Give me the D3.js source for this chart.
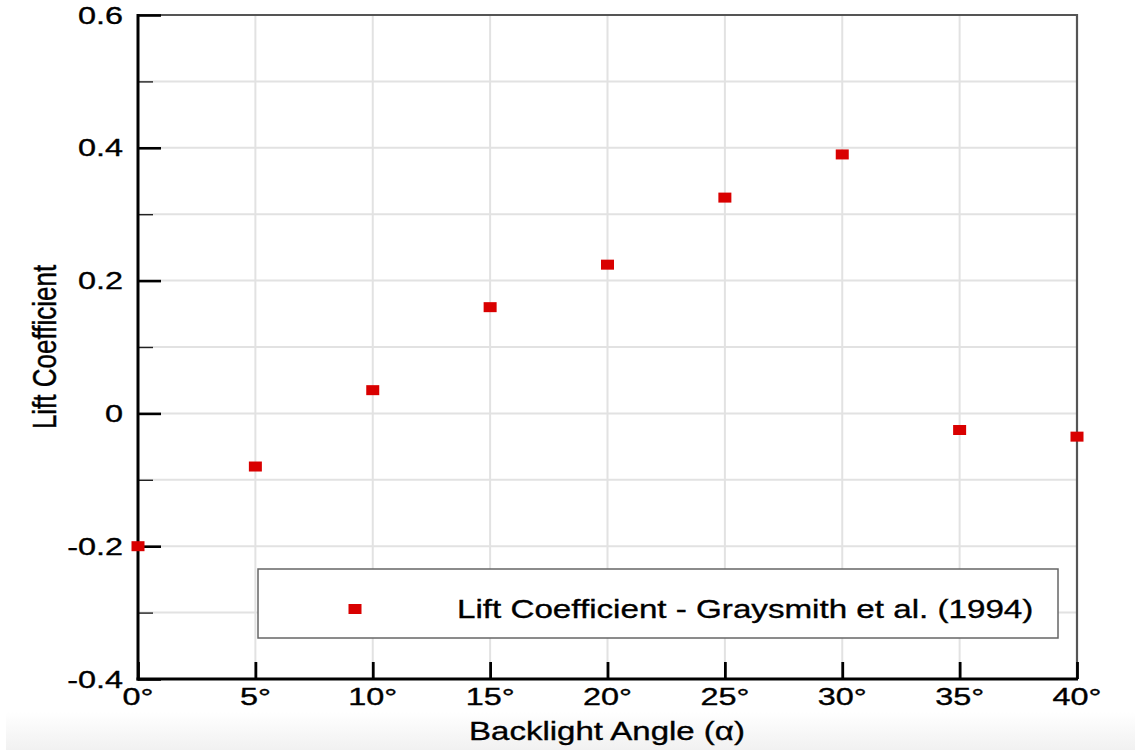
<!DOCTYPE html>
<html>
<head>
<meta charset="utf-8">
<script src="https://cdn.jsdelivr.net/npm/d3@7"></script>
<style>
  html, body { margin: 0; padding: 0; background: #fff; }
  svg { display: block; font-family: "Liberation Sans", Arial, Helvetica, sans-serif; }
</style>
</head>
<body>
<svg id="chart" width="1135" height="750"></svg>
<script>
// ---- data ----
const angles = [0, 5, 10, 15, 20, 25, 30, 35, 40];
const liftCoef = [-0.2, -0.08, 0.035, 0.16, 0.224, 0.325, 0.39, -0.025, -0.035];
const xTickValues = [0, 5, 10, 15, 20, 25, 30, 35, 40];
const xTickLabels = ["0°", "5°", "10°", "15°", "20°", "25°", "30°", "35°", "40°"];
const yMajorValues = [-0.4, -0.2, 0, 0.2, 0.4, 0.6];
const yTickLabels = ["-0.4", "-0.2", "0", "0.2", "0.4", "0.6"];
const yMinorValues = [-0.3, -0.1, 0.1, 0.3, 0.5];
const yGridValues = [-0.3, -0.2, -0.1, 0, 0.1, 0.2, 0.3, 0.4, 0.5];
const xGridValues = [5, 10, 15, 20, 25, 30, 35];
const xTitle = "Backlight Angle (α)";
const yTitle = "Lift Coefficient";
const legendLabel = "Lift Coefficient - Graysmith et al. (1994)";

// ---- layout ----
const svg = d3.select("#chart");
const L = 138, R = 1077, T = 15, B = 679;
const x = d3.scaleLinear().domain([0, 40]).range([L, R]);
const y = d3.scaleLinear().domain([-0.4, 0.6]).range([B, T]);
const RED = "#d90000";

// faint bottom shadow band
const defs = svg.append("defs");
const grad = defs.append("linearGradient").attr("id", "band").attr("x1", 0).attr("y1", 0).attr("x2", 0).attr("y2", 1);
grad.append("stop").attr("offset", "0%").attr("stop-color", "#ffffff");
grad.append("stop").attr("offset", "100%").attr("stop-color", "#f1f1f1");
svg.append("rect").attr("x", 6).attr("y", 712).attr("width", 1129).attr("height", 38).attr("fill", "url(#band)");

// grid
const grid = svg.append("g").attr("stroke", "#e2e2e2").attr("stroke-width", 2);
grid.selectAll("line.gx").data(xGridValues).join("line")
  .attr("x1", d => x(d)).attr("x2", d => x(d)).attr("y1", T).attr("y2", B);
grid.selectAll("line.gy").data(yGridValues).join("line")
  .attr("x1", L).attr("x2", R).attr("y1", d => y(d)).attr("y2", d => y(d));

// top & right frame
svg.append("path")
  .attr("d", `M${L},${T}H${R}V${B}`)
  .attr("fill", "none").attr("stroke", "#555").attr("stroke-width", 2.2);

// left axis (ticks inward)
const yAxisMajor = d3.axisLeft(y).tickValues(yMajorValues).tickSize(-23).tickFormat("").tickSizeOuter(0);
const gy = svg.append("g").attr("transform", `translate(${L},0)`).call(yAxisMajor);
gy.select(".domain").remove();
gy.selectAll(".tick line").attr("stroke", "#000").attr("stroke-width", 2.6);
const yAxisMinor = d3.axisLeft(y).tickValues(yMinorValues).tickSize(-15).tickFormat("").tickSizeOuter(0);
const gym = svg.append("g").attr("transform", `translate(${L},0)`).call(yAxisMinor);
gym.select(".domain").remove();
gym.selectAll(".tick line").attr("stroke", "#222").attr("stroke-width", 1.4);

// bottom axis (ticks inward)
const xAxis = d3.axisBottom(x).tickValues(xTickValues).tickSize(-17).tickFormat("").tickSizeOuter(0);
const gx = svg.append("g").attr("transform", `translate(0,${B})`).call(xAxis);
gx.select(".domain").remove();
gx.selectAll(".tick line").attr("stroke", "#000").attr("stroke-width", 2.8);

// axis lines
svg.append("line").attr("x1", L).attr("x2", L).attr("y1", T - 1).attr("y2", B + 1.5)
  .attr("stroke", "#000").attr("stroke-width", 3);
svg.append("line").attr("x1", L - 1.5).attr("x2", R + 1).attr("y1", B).attr("y2", B)
  .attr("stroke", "#000").attr("stroke-width", 3);

// helper for horizontally stretched text
function stretchedText(parent, tx, ty, sx, size, anchor, str, rotate) {
  const g = parent.append("g")
    .attr("transform", `translate(${tx},${ty}) scale(${sx},1)` + (rotate ? ` rotate(${rotate})` : ""));
  return g.append("text").attr("x", 0).attr("y", 0)
    .attr("font-size", size).attr("text-anchor", anchor)
    .attr("fill", "#000").attr("stroke", "#000").attr("stroke-width", 0.35)
    .text(str);
}

// y tick labels
const ylab = svg.append("g");
yMajorValues.forEach((v, i) => {
  stretchedText(ylab, 123, y(v) + 8.5, 1.35, 24, "end", yTickLabels[i]);
});
// x tick labels
const xlab = svg.append("g");
xTickValues.forEach((v, i) => {
  stretchedText(xlab, x(v), 705, 1.35, 24, "middle", xTickLabels[i]);
});

// axis titles
stretchedText(svg, 607, 740, 1.32, 25, "middle", xTitle);
stretchedText(svg, 56, y(0.1), 1.3, 26, "middle", yTitle, -90);

// data points
const mw = 13, mh = 10;
svg.append("g").selectAll("rect").data(angles.map((a, i) => [a, liftCoef[i]])).join("rect")
  .attr("x", d => x(d[0]) - mw / 2).attr("y", d => y(d[1]) - mh / 2)
  .attr("width", mw).attr("height", mh).attr("fill", RED);

// legend
const lg = svg.append("g");
lg.append("rect").attr("x", 258).attr("y", 569).attr("width", 800).attr("height", 69)
  .attr("fill", "#fff").attr("stroke", "#666").attr("stroke-width", 1.5);
lg.append("rect").attr("x", 355 - mw / 2).attr("y", 609 - mh / 2).attr("width", mw).attr("height", mh).attr("fill", RED);
stretchedText(lg, 457, 618, 1.276, 26, "start", legendLabel);
</script>
</body>
</html>
